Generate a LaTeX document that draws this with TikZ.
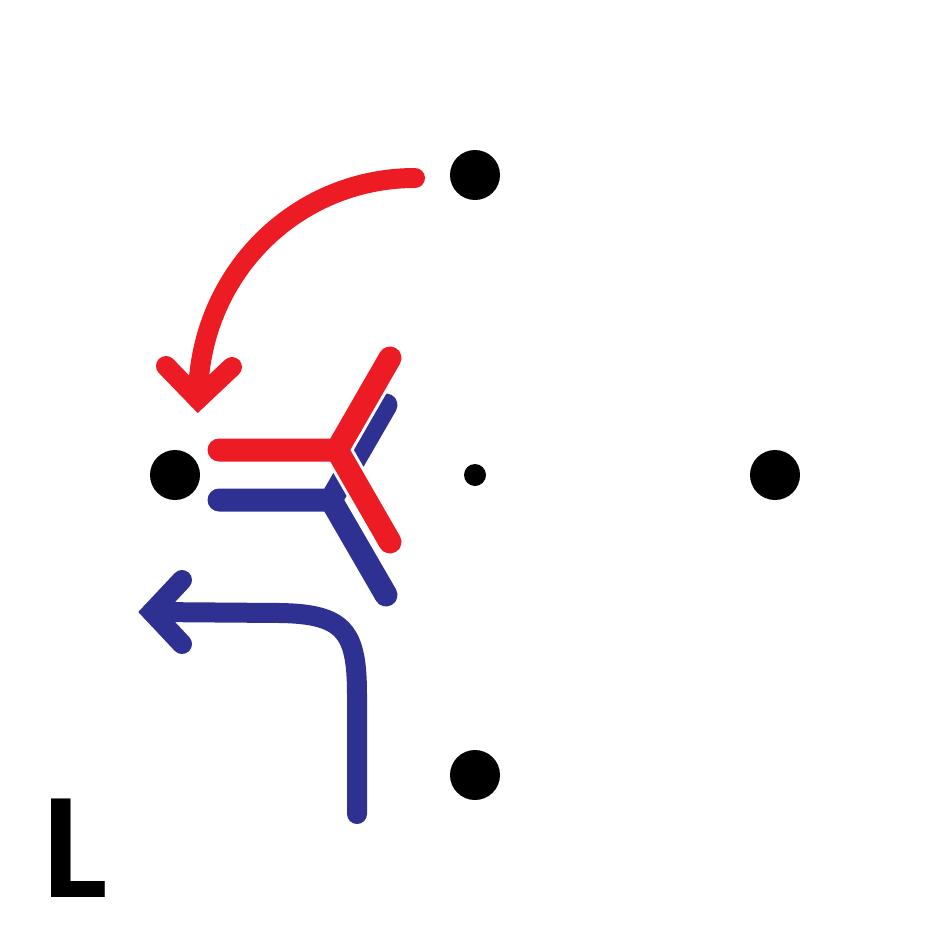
\documentclass[tikz,border=0pt]{standalone}
\usepackage{fontspec}
\usepackage{tikz}
\usetikzlibrary{calc}
\definecolor{bondRed}{HTML}{ED1C24}
\definecolor{bondBlue}{HTML}{2E3192}
\newfontfamily\labelfont{Carlito}

\begin{document}
\begin{tikzpicture}[x=1pt, y=-1pt,
    atom/.style={fill=black},
    ybond/.style={line width=23pt, line cap=round, line join=round},
    flow/.style={line width=20pt, line cap=round},
    barb/.style={line width=20pt, line cap=round, line join=miter}]
        \useasboundingbox (0,0) rectangle (950,950);
        % atoms
        \fill[atom] (475,175) circle (25);
        \fill[atom] (175,475) circle (25);
        \fill[atom] (775,475) circle (25);
        \fill[atom] (475,775) circle (25);
        \fill[atom] (475,475) circle (11);
        % blue Y, then red Y on top with a white edge
        \coordinate (bJ) at (331,500);
        \draw[ybond, bondBlue] (219,500) -- (bJ) -- ++(55,-95);
        \draw[ybond, bondBlue] (bJ) -- ++(55,95);
        \coordinate (rJ) at (337,450);
        \draw[ybond, white, line width=29pt] ($(rJ)+(53,-92)$) -- (rJ) -- ($(rJ)+(53,92)$);
        \draw[ybond, bondRed] (219,450) -- (rJ) -- ++(53,-92);
        \draw[ybond, bondRed] (rJ) -- ++(53,92);
        % curved arrows, barbs drawn by hand
        \coordinate (rTip) at (198,399);
        \draw[flow, bondRed] (415,178) .. controls (295,178) and (198,275) .. (rTip);
        \draw[barb, bondRed] (166,366) -- (rTip) -- (232,367);
        \coordinate (bTip) at (152,612);
        \draw[flow, bondBlue] (357,814) -- (357,695) .. controls (357,632) and (345,614) .. (280,613) -- (bTip);
        \draw[barb, bondBlue] (182,580) -- (bTip) -- (182,644);
        % label
        \node[font=\labelfont\bfseries\fontsize{152}{152}\selectfont, anchor=base west, inner sep=0pt] (lbl) at (43,897) {L};
\end{tikzpicture}
\end{document}
